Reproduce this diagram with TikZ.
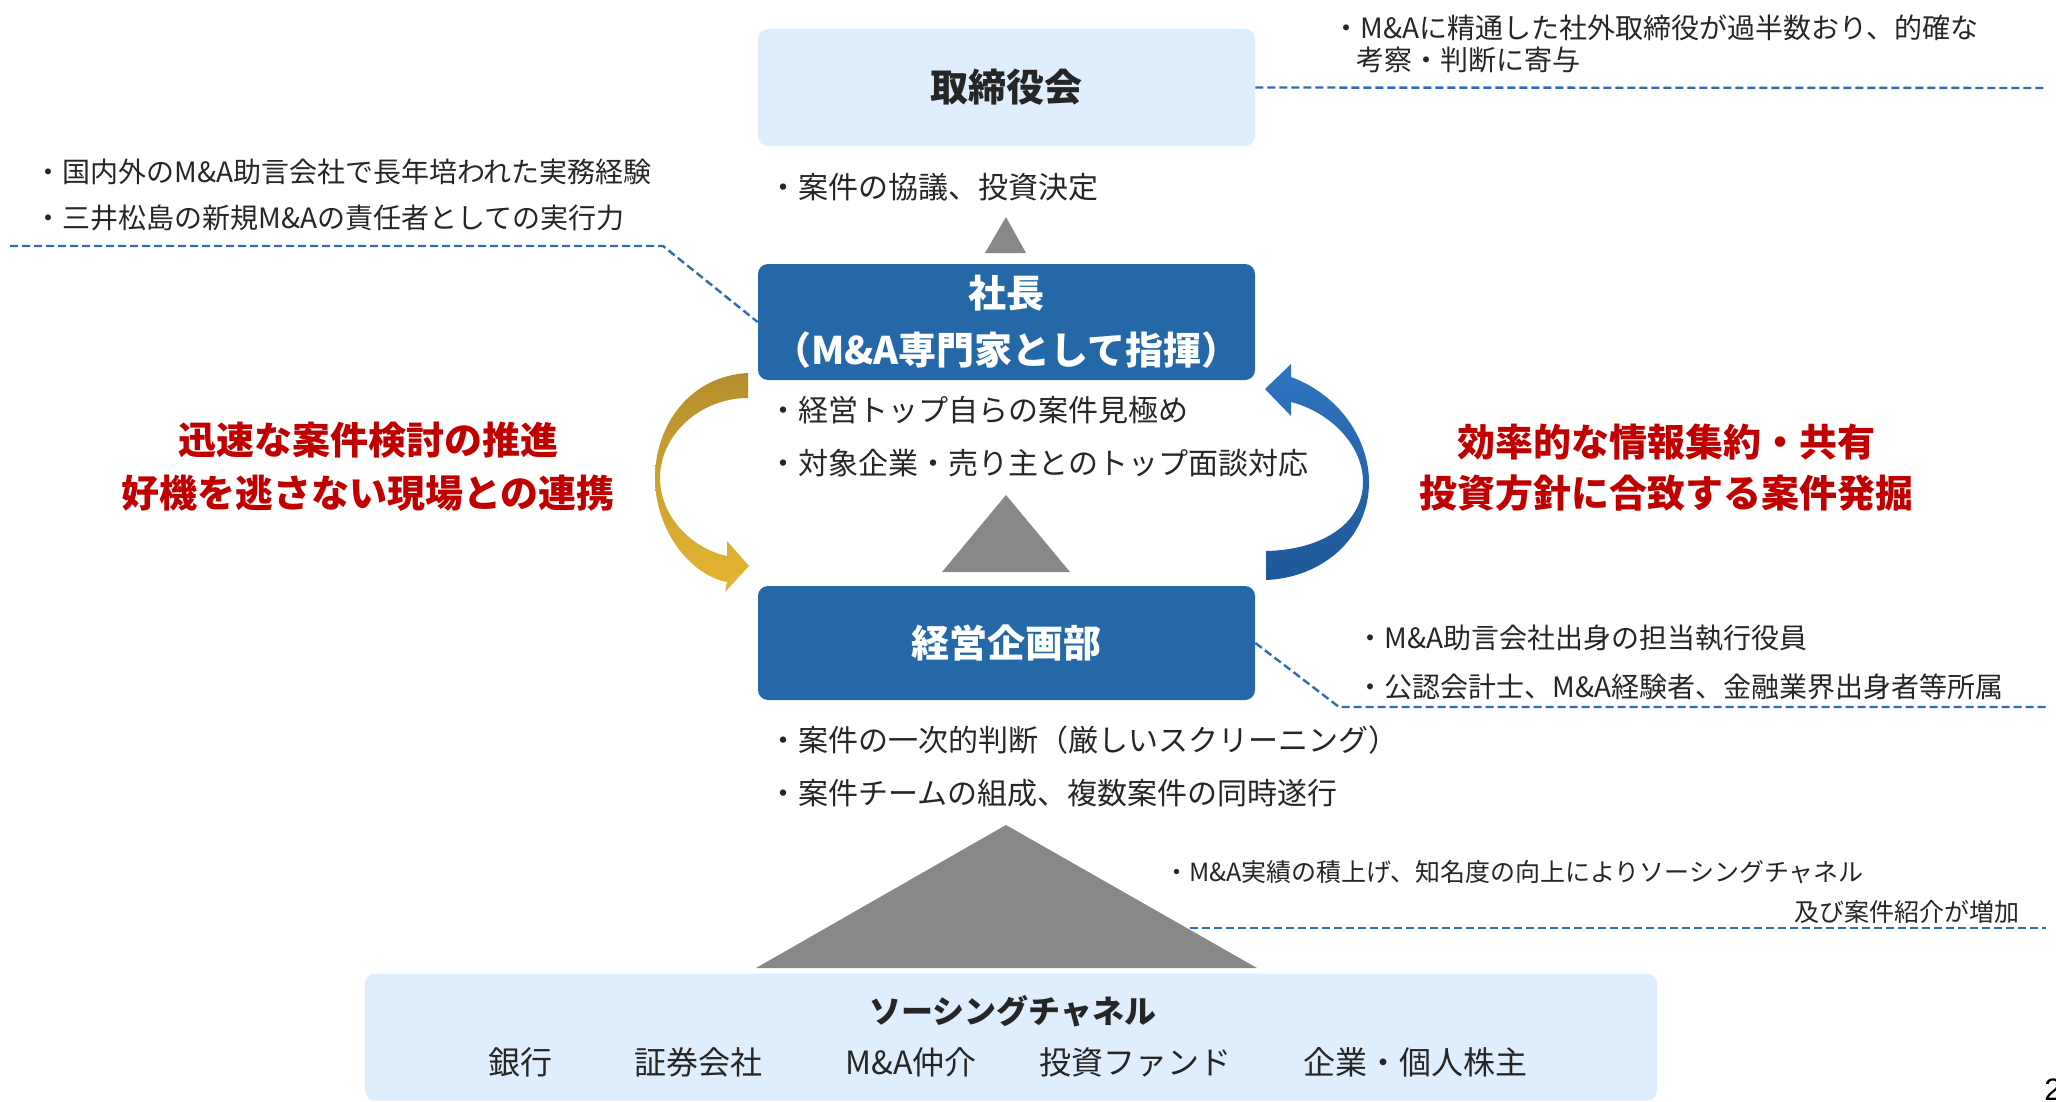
\documentclass[tikz,border=0pt]{standalone}
\usepackage{fontspec}
\setmainfont{Noto Sans CJK JP}
\newfontfamily\numfont{Liberation Sans}
\definecolor{boxblue}{RGB}{36,104,168}
\definecolor{lightblue}{RGB}{223,238,252}
\definecolor{trigray}{RGB}{136,136,136}
\definecolor{dashblue}{RGB}{46,109,180}
\definecolor{redc}{RGB}{192,0,0}
\definecolor{txt}{RGB}{38,38,38}
\definecolor{goldtop}{RGB}{180,142,44}
\definecolor{goldbot}{RGB}{230,182,50}
\definecolor{arrtop}{RGB}{46,117,192}
\definecolor{arrbot}{RGB}{30,88,152}
\begin{document}
\begin{tikzpicture}[x=0.5pt,y=-0.5pt,
  darkbox/.style={fill=boxblue, rounded corners=5pt, minimum width=248.5pt, minimum height=58pt, text=white, font=\bfseries\fontsize{19}{28.5}\selectfont, align=center, inner sep=0pt},
  lightbox/.style={fill=lightblue, rounded corners=5pt, minimum width=248.5pt, minimum height=58.5pt, text=txt, font=\bfseries\fontsize{19}{24}\selectfont, align=center, inner sep=0pt},
  body/.style={anchor=west, inner sep=0pt, text=txt, font=\fontsize{15}{18}\selectfont},
  note/.style={anchor=west, inner sep=0pt, text=txt, font=\fontsize{14}{17}\selectfont},
  redtxt/.style={inner sep=0pt, text=redc, font=\bfseries\fontsize{19}{24}\selectfont},
  srcitem/.style={inner sep=0pt, text=txt, font=\fontsize{16}{19}\selectfont},
  dashline/.style={draw=dashblue, line width=1.2pt, dash pattern=on 4pt off 2pt},
  tri/.style={fill=trigray}]
\useasboundingbox (0,0) rectangle (2056,1102);
\clip (0,0) rectangle (2056,1102);

% boxes
\node[lightbox] (board) at (1006.5,87.5) {取締役会};
\node[darkbox] (pres) at (1006.5,322) {社長\\（M\&A専門家として指揮）};
\node[darkbox, minimum height=57pt] (plan) at (1006.5,643) {経営企画部};
\node[lightbox, minimum width=646pt, minimum height=63.5pt] (src) at (1011,1037) {};
\node[inner sep=0pt, text=txt, font=\bfseries\fontsize{16}{19}\selectfont] (srctitle) at (1013,1011) {ソーシングチャネル};
\node[srcitem] (s1) at (520,1062) {銀行};
\node[srcitem] (s2) at (698,1062) {証券会社};
\node[srcitem] (s3) at (911,1062) {M\&A仲介};
\node[srcitem] (s4) at (1135,1062) {投資ファンド};
\node[srcitem] (s5) at (1415,1062) {企業・個人株主};

% triangles
\fill[tri] (1006,217) -- (1026,253) -- (985,253) -- cycle;
\fill[tri] (1006,495) -- (1070,572) -- (942,572) -- cycle;
\fill[tri] (1006,825) -- (1257,968) -- (756,968) -- cycle;

% body texts
\node[body] (b1) at (768,187) {・案件の協議、投資決定};
\node[body] (b2) at (768,410) {・経営トップ自らの案件見極め};
\node[body] (b3) at (768,463) {・対象企業・売り主とのトップ面談対応};
\node[body] (b4) at (768,740) {・案件の一次的判断（厳しいスクリーニング）};
\node[body] (b5) at (768,793) {・案件チームの組成、複数案件の同時遂行};

% curved arrows
\shade[top color=goldtop, bottom color=goldbot]
  (748,373) .. controls (690,376) and (655,425) .. (655,478)
  .. controls (655,530) and (690,575) .. (727,582)
  -- (725,592) -- (749,566) -- (727,541) -- (727,556)
  .. controls (690,548) and (660,515) .. (660,478)
  .. controls (660,435) and (700,398) .. (748,398) -- cycle;
\shade[top color=arrtop, bottom color=arrbot]
  (1265,389) -- (1291,364) -- (1291,377)
  .. controls (1340,395) and (1369,440) .. (1369,482)
  .. controls (1369,540) and (1320,578) .. (1266,580)
  -- (1266,551)
  .. controls (1320,550) and (1363,525) .. (1363,482)
  .. controls (1363,445) and (1330,412) .. (1291,402)
  -- (1291,416) -- cycle;

% red texts
\node[redtxt] (r1a) at (368,440) {迅速な案件検討の推進};
\node[redtxt] (r1b) at (368,493) {好機を逃さない現場との連携};
\node[redtxt] (r2a) at (1666,442) {効率的な情報集約・共有};
\node[redtxt] (r2b) at (1666,493) {投資方針に合致する案件発掘};

% annotations
\node[note] (n1a) at (34,172) {・国内外のM\&A助言会社で長年培われた実務経験};
\node[note] (n1b) at (34,218) {・三井松島の新規M\&Aの責任者としての実行力};
\node[note] (n2a) at (1332,28) {・M\&Aに精通した社外取締役が過半数おり、的確な};
\node[note] (n2b) at (1356,60) {考察・判断に寄与};
\node[note] (n3a) at (1356,638) {・M\&A助言会社出身の担当執行役員};
\node[note] (n3b) at (1356,687) {・公認会計士、M\&A経験者、金融業界出身者等所属};
\node[note, font=\fontsize{12.5}{15}\selectfont] (n4a) at (1164,872) {・M\&A実績の積上げ、知名度の向上によりソーシングチャネル};
\node[note, anchor=east, font=\fontsize{12.5}{15}\selectfont] (n4b) at (2020,912) {及び案件紹介が増加};

% dashed connectors
\coordinate (d1a) at (10,246);
\coordinate (d1b) at (663,246);
\draw[dashline] (d1a) -- (d1b) -- (pres.west);
\coordinate (d2) at (2046,88);
\draw[dashline] (board.east) -- (d2);
\coordinate (d3a) at (1339,707);
\coordinate (d3b) at (2046,707);
\draw[dashline] (plan.east) -- (d3a) -- (d3b);
\coordinate (t3r) at (1190,928);
\coordinate (d4) at (2046,928);
\draw[dashline] (t3r) -- (d4);

% page number
\node[font=\numfont\fontsize{15.5}{18}\selectfont, anchor=base west, inner sep=0pt, text=black] (pg) at (2044,1100) {2};
\end{tikzpicture}
\end{document}
